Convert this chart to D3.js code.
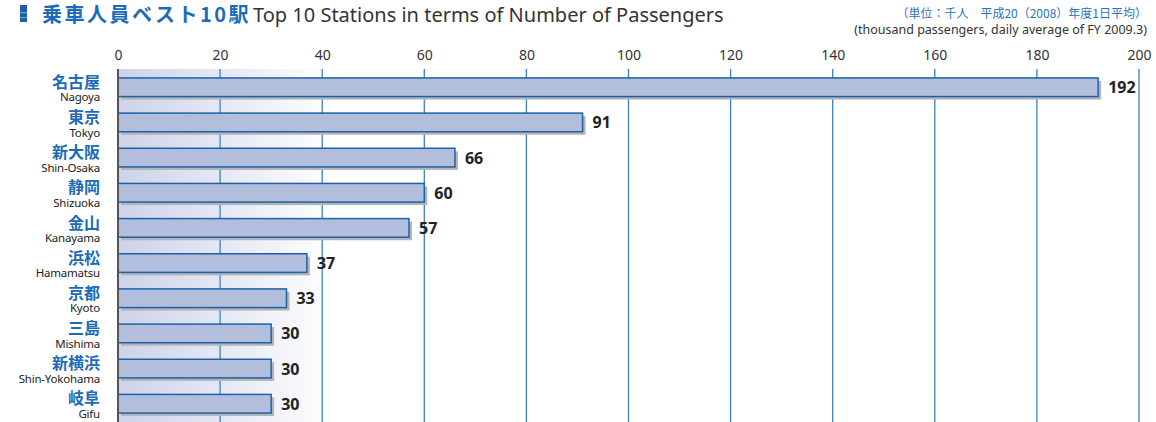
<!DOCTYPE html>
<html>
<head>
<meta charset="utf-8">
<script src="https://cdn.jsdelivr.net/npm/d3@7"></script>
<style>
  body { margin: 0; background: #fff; }
  svg { display: block; }
</style>
</head>
<body>
<script>
const stationsJa = ["名古屋", "東京", "新大阪", "静岡", "金山", "浜松", "京都", "三島", "新横浜", "岐阜"]
const stationsEn = ["Nagoya", "Tokyo", "Shin-Osaka", "Shizuoka", "Kanayama", "Hamamatsu", "Kyoto", "Mishima", "Shin-Yokohama", "Gifu"]
const passengers = [192, 91, 66, 60, 57, 37, 33, 30, 30, 30]
const tickValues = [0, 20, 40, 60, 80, 100, 120, 140, 160, 180, 200]

const w = 1156
const h = 422
const plotLeft = 118
const plotRight = 1139
const plotTop = 69

const svg = d3.select("body").append("svg")
  .attr("width", w)
  .attr("height", h)

const x = d3.scaleLinear().domain([0, 200]).range([plotLeft, plotRight])
const y = d3.scaleBand().domain(d3.range(10)).range([69.5, 421.5]).paddingInner(0.47).paddingOuter(0.24)

// background gradient
const defs = svg.append("defs")
const grad = defs.append("linearGradient").attr("id", "bg")
grad.append("stop").attr("offset", "0%").attr("stop-color", "#cdd2e9")
grad.append("stop").attr("offset", "100%").attr("stop-color", "#ffffff")
svg.append("rect")
  .attr("x", plotLeft).attr("y", plotTop)
  .attr("width", x(42) - plotLeft).attr("height", h - plotTop)
  .attr("fill", "url(#bg)")

// grid lines
svg.selectAll(".grid")
  .data(tickValues.slice(1))
  .enter()
  .append("line")
  .attr("x1", d => x(d)).attr("x2", d => x(d))
  .attr("y1", plotTop).attr("y2", h)
  .attr("stroke", "#3d7fc0")
  .attr("stroke-width", 1.3)

// tick labels
const axis = d3.axisTop(x).tickValues(tickValues).tickSize(0).tickPadding(0)
const ax = svg.append("g").attr("transform", "translate(0," + 60 + ")").call(axis)
ax.select(".domain").remove()
ax.selectAll("text")
  .attr("font-family", "'Noto Sans', sans-serif")
  .attr("font-size", 14)
  .attr("fill", "#333")

// bars
const rows = svg.selectAll(".row")
  .data(passengers)
  .enter()
  .append("g")

rows.append("rect")
  .attr("x", plotLeft + 3)
  .attr("y", (d, i) => y(i) + 3)
  .attr("width", d => x(d) - plotLeft)
  .attr("height", y.bandwidth())
  .attr("fill", "#b4b4b4")

rows.append("rect")
  .attr("x", plotLeft)
  .attr("y", (d, i) => y(i))
  .attr("width", d => x(d) - plotLeft)
  .attr("height", y.bandwidth())
  .attr("fill", "#b3bedd")
  .attr("stroke", "#1b62ab")
  .attr("stroke-width", 1.5)

rows.append("text")
  .attr("x", d => x(d) + 10)
  .attr("y", (d, i) => y(i) + y.bandwidth() / 2 + 6)
  .attr("font-family", "'Noto Sans', sans-serif")
  .attr("font-weight", "bold")
  .attr("font-size", 16)
  .attr("fill", "#222")
  .text(d => d)

// station labels
rows.append("text")
  .attr("x", 100)
  .attr("y", (d, i) => y(i) + 10)
  .attr("text-anchor", "end")
  .attr("font-family", "'Noto Sans CJK JP', sans-serif")
  .attr("font-weight", "bold")
  .attr("font-size", 16)
  .attr("fill", "#1b6bb8")
  .text((d, i) => stationsJa[i])

rows.append("text")
  .attr("x", 100)
  .attr("y", (d, i) => y(i) + 23.5)
  .attr("text-anchor", "end")
  .attr("font-family", "'Noto Sans', sans-serif")
  .attr("font-size", 11.5)
  .attr("letter-spacing", -0.2)
  .attr("fill", "#222")
  .text((d, i) => stationsEn[i])

// left axis line
svg.append("line")
  .attr("x1", plotLeft).attr("x2", plotLeft)
  .attr("y1", plotTop).attr("y2", h)
  .attr("stroke", "#555")
  .attr("stroke-width", 2)

// title icon
svg.append("rect").attr("x", 20).attr("y", 5).attr("width", 7).attr("height", 17).attr("fill", "#1b5fa8")
svg.append("rect").attr("x", 20).attr("y", 12).attr("width", 7).attr("height", 1.2).attr("fill", "#6f9fd0")
svg.append("rect").attr("x", 20).attr("y", 17).attr("width", 7).attr("height", 1.2).attr("fill", "#6f9fd0")

const title = svg.append("text")
  .attr("x", 42).attr("y", 22)
title.append("tspan")
  .attr("font-family", "'Noto Sans CJK JP', sans-serif")
  .attr("font-weight", "bold")
  .attr("font-size", 20)
  .attr("letter-spacing", 2.5)
  .attr("fill", "#1b6bb8")
  .text("乗車人員ベスト10駅")
title.append("tspan")
  .attr("dx", 2)
  .attr("font-family", "'Noto Sans', sans-serif")
  .attr("font-size", 20)
  .attr("fill", "#333")
  .text("Top 10 Stations in terms of Number of Passengers")

svg.append("text")
  .attr("x", 1147).attr("y", 18)
  .attr("text-anchor", "end")
  .attr("font-family", "'Noto Sans CJK JP', sans-serif")
  .attr("font-size", 12)
  .attr("fill", "#2a74bd")
  .text("（単位：千人　平成20（2008）年度1日平均）")

svg.append("text")
  .attr("x", 1147).attr("y", 34)
  .attr("text-anchor", "end")
  .attr("font-family", "'Noto Sans', sans-serif")
  .attr("font-size", 12.5)
  .attr("fill", "#333")
  .text("(thousand passengers, daily average of FY 2009.3)")
</script>
</body>
</html>
